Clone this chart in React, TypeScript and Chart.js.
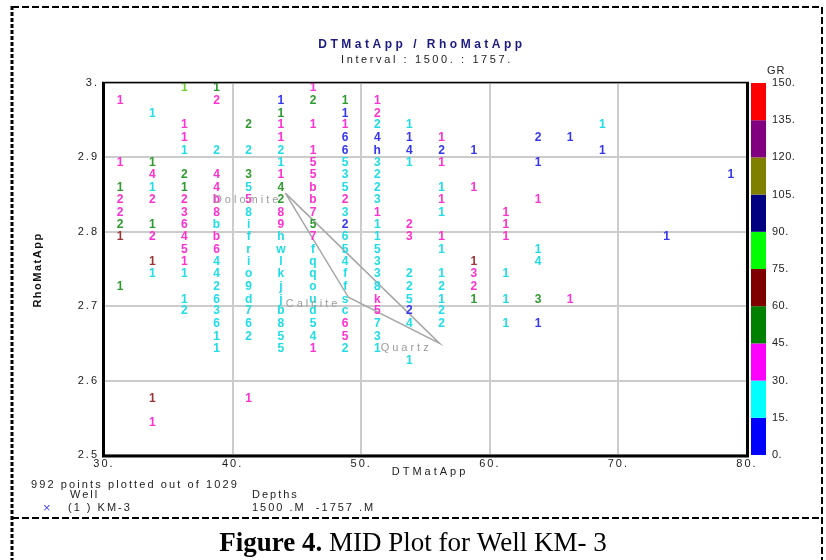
import { useEffect, useRef } from "react";
import { Chart, registerables } from "chart.js";

Chart.register(...registerables);

// ---------- axis ticks ----------
const xTicks = [30, 40, 50, 60, 70, 80];
const xTickLabels = ["30.", "40.", "50.", "60.", "70.", "80."];
const yTicks = [2.5, 2.6, 2.7, 2.8, 2.9, 3.0];
const yTickLabels = ["2.5", "2.6", "2.7", "2.8", "2.9", "3."];

// ---------- GR colour scale ----------
const grBounds = [0, 15, 30, 45, 60, 75, 90, 105, 120, 135, 150];
const grBoundLabels = ["0.", "15.", "30.", "45.", "60.", "75.", "90.", "105.", "120.", "135.", "150."];
const grBandColors = ["#0000ff", "#00ffff", "#ff00ff", "#008000", "#800000", "#00ff00", "#000080", "#808000", "#800080", "#ff0000"];

// ---------- crossplot cells: [DTMatApp, RhoMatApp, count symbol] ----------
type Cell = [number, number, string];

// GR 0-15
const gr0to15: Cell[] = [
  [43.75, 2.975, "1"], [48.75, 2.958, "1"],
  [48.75, 2.925, "6"], [51.25, 2.925, "4"], [53.75, 2.925, "1"], [63.75, 2.925, "2"], [66.25, 2.925, "1"],
  [48.75, 2.908, "6"], [51.25, 2.908, "h"], [53.75, 2.908, "4"], [56.25, 2.908, "2"], [58.75, 2.908, "1"], [68.75, 2.908, "1"],
  [63.75, 2.892, "1"], [78.75, 2.875, "1"], [48.75, 2.808, "2"], [73.75, 2.792, "1"],
  [53.75, 2.692, "2"], [63.75, 2.675, "1"],
];

// GR 15-30
const gr15to30: Cell[] = [
  [33.75, 2.958, "1"],
  [51.25, 2.942, "2"], [53.75, 2.942, "1"], [68.75, 2.942, "1"],
  [36.25, 2.908, "1"], [38.75, 2.908, "2"], [41.25, 2.908, "2"], [43.75, 2.908, "2"],
  [43.75, 2.892, "1"], [48.75, 2.892, "5"], [51.25, 2.892, "3"], [53.75, 2.892, "1"],
  [48.75, 2.875, "3"], [51.25, 2.875, "2"],
  [33.75, 2.858, "1"], [41.25, 2.858, "5"], [48.75, 2.858, "5"], [51.25, 2.858, "2"], [56.25, 2.858, "1"],
  [51.25, 2.842, "3"],
  [41.25, 2.825, "8"], [48.75, 2.825, "3"], [56.25, 2.825, "1"],
  [38.75, 2.808, "b"], [41.25, 2.808, "i"], [51.25, 2.808, "1"],
  [41.25, 2.792, "f"], [43.75, 2.792, "h"], [48.75, 2.792, "6"], [51.25, 2.792, "1"],
  [41.25, 2.775, "r"], [43.75, 2.775, "w"], [46.25, 2.775, "f"], [48.75, 2.775, "5"], [51.25, 2.775, "5"], [56.25, 2.775, "1"], [63.75, 2.775, "1"],
  [38.75, 2.758, "4"], [41.25, 2.758, "i"], [43.75, 2.758, "l"], [46.25, 2.758, "q"], [48.75, 2.758, "4"], [51.25, 2.758, "3"], [63.75, 2.758, "4"],
  [33.75, 2.742, "1"], [36.25, 2.742, "1"], [38.75, 2.742, "4"], [41.25, 2.742, "o"], [43.75, 2.742, "k"], [46.25, 2.742, "q"], [48.75, 2.742, "f"], [51.25, 2.742, "3"], [53.75, 2.742, "2"], [56.25, 2.742, "1"], [61.25, 2.742, "1"],
  [38.75, 2.725, "2"], [41.25, 2.725, "9"], [43.75, 2.725, "j"], [46.25, 2.725, "o"], [48.75, 2.725, "f"], [51.25, 2.725, "8"], [53.75, 2.725, "2"], [56.25, 2.725, "2"],
  [36.25, 2.708, "1"], [38.75, 2.708, "6"], [41.25, 2.708, "d"], [43.75, 2.708, "j"], [46.25, 2.708, "u"], [48.75, 2.708, "s"], [53.75, 2.708, "5"], [56.25, 2.708, "1"], [61.25, 2.708, "1"],
  [36.25, 2.692, "2"], [38.75, 2.692, "3"], [41.25, 2.692, "7"], [43.75, 2.692, "b"], [46.25, 2.692, "d"], [48.75, 2.692, "c"], [56.25, 2.692, "2"],
  [38.75, 2.675, "6"], [41.25, 2.675, "6"], [43.75, 2.675, "8"], [46.25, 2.675, "5"], [51.25, 2.675, "7"], [53.75, 2.675, "4"], [56.25, 2.675, "2"], [61.25, 2.675, "1"],
  [38.75, 2.658, "1"], [41.25, 2.658, "2"], [43.75, 2.658, "5"], [46.25, 2.658, "4"], [51.25, 2.658, "3"],
  [38.75, 2.642, "1"], [43.75, 2.642, "5"], [48.75, 2.642, "2"], [51.25, 2.642, "1"],
  [53.75, 2.625, "1"],
];

// GR 30-45
const gr30to45: Cell[] = [
  [46.25, 2.992, "1"],
  [31.25, 2.975, "1"], [38.75, 2.975, "2"], [51.25, 2.975, "1"],
  [51.25, 2.958, "2"],
  [36.25, 2.942, "1"], [43.75, 2.942, "1"], [46.25, 2.942, "1"], [48.75, 2.942, "1"],
  [36.25, 2.925, "1"], [43.75, 2.925, "1"], [56.25, 2.925, "1"],
  [46.25, 2.908, "1"],
  [31.25, 2.892, "1"], [46.25, 2.892, "5"], [56.25, 2.892, "1"],
  [33.75, 2.875, "4"], [38.75, 2.875, "4"], [43.75, 2.875, "1"], [46.25, 2.875, "5"],
  [38.75, 2.858, "4"], [46.25, 2.858, "b"], [58.75, 2.858, "1"],
  [31.25, 2.842, "2"], [33.75, 2.842, "2"], [36.25, 2.842, "2"], [38.75, 2.842, "b"], [41.25, 2.842, "5"], [46.25, 2.842, "b"], [48.75, 2.842, "2"], [56.25, 2.842, "1"], [63.75, 2.842, "1"],
  [31.25, 2.825, "2"], [36.25, 2.825, "3"], [38.75, 2.825, "8"], [43.75, 2.825, "8"], [46.25, 2.825, "7"], [51.25, 2.825, "1"], [61.25, 2.825, "1"],
  [36.25, 2.808, "6"], [43.75, 2.808, "9"], [53.75, 2.808, "2"], [61.25, 2.808, "1"],
  [33.75, 2.792, "2"], [36.25, 2.792, "4"], [38.75, 2.792, "b"], [46.25, 2.792, "7"], [53.75, 2.792, "3"], [56.25, 2.792, "1"], [61.25, 2.792, "1"],
  [36.25, 2.775, "5"], [38.75, 2.775, "6"],
  [36.25, 2.758, "1"],
  [58.75, 2.742, "3"], [58.75, 2.725, "2"],
  [51.25, 2.708, "k"], [66.25, 2.708, "1"],
  [51.25, 2.692, "5"], [48.75, 2.675, "6"], [48.75, 2.658, "5"], [46.25, 2.642, "1"],
  [41.25, 2.575, "1"], [33.75, 2.542, "1"],
];

// GR 45-60
const gr45to60: Cell[] = [
  [38.75, 2.992, "1"], [46.25, 2.975, "2"], [48.75, 2.975, "1"], [43.75, 2.958, "1"], [41.25, 2.942, "2"],
  [33.75, 2.892, "1"], [36.25, 2.875, "2"], [41.25, 2.875, "3"],
  [31.25, 2.858, "1"], [36.25, 2.858, "1"], [43.75, 2.858, "4"], [43.75, 2.842, "2"],
  [31.25, 2.808, "2"], [33.75, 2.808, "1"], [46.25, 2.808, "5"],
  [31.25, 2.725, "1"], [58.75, 2.708, "1"], [63.75, 2.708, "3"],
];

// GR 60-75
const gr60to75: Cell[] = [
  [31.25, 2.792, "1"], [33.75, 2.758, "1"], [58.75, 2.758, "1"], [33.75, 2.575, "1"],
];

// GR 75-90
const gr75to90: Cell[] = [[36.25, 2.992, "1"]];

const cellBands = [gr0to15, gr15to30, gr30to45, gr45to60, gr60to75, gr75to90];
const cellTextColors = ["#3636f0", "#1fdde6", "#ff30d0", "#2f9a2f", "#9b3535", "#6ccc2a"];

// ---------- mineral triangle ----------
const mineralNames = ["Dolomite", "Calcite", "Quartz"];
const mineralDT = [44.1, 49.0, 56.1];
const mineralRho = [2.852, 2.712, 2.65];

const SANS = "'Liberation Sans', Arial, sans-serif";
const SERIF = "'Liberation Serif', 'Times New Roman', serif";

function txt(
  ctx: CanvasRenderingContext2D,
  s: string,
  x: number,
  y: number,
  font: string,
  color: string,
  align: CanvasTextAlign = "left",
  spacing = 0,
  baseline: CanvasTextBaseline = "middle"
) {
  ctx.save();
  (ctx as any).letterSpacing = spacing + "px";
  ctx.font = font;
  ctx.fillStyle = color;
  ctx.textAlign = align;
  ctx.textBaseline = baseline;
  ctx.fillText(s, x, y);
  ctx.restore();
}

const decorPlugin = {
  id: "decor",
  beforeDraw(chart: any) {
    const ctx: CanvasRenderingContext2D = chart.ctx;
    ctx.save();
    ctx.fillStyle = "#ffffff";
    ctx.fillRect(0, 0, chart.width, chart.height);
    // dashed page borders
    ctx.strokeStyle = "#000";
    ctx.lineWidth = 2;
    ctx.setLineDash([7, 3]);
    ctx.beginPath();
    ctx.moveTo(12, 7);
    ctx.lineTo(822, 7);
    ctx.moveTo(12, 518);
    ctx.lineTo(822, 518);
    ctx.moveTo(822, 7);
    ctx.lineTo(822, 560);
    ctx.stroke();
    ctx.lineWidth = 3;
    ctx.setLineDash([4, 2]);
    ctx.beginPath();
    ctx.moveTo(12, 6);
    ctx.lineTo(12, 560);
    ctx.stroke();
    ctx.restore();
    (ctx as any).letterSpacing = "2px";
  },
  afterDatasetsDraw(chart: any) {
    const ctx: CanvasRenderingContext2D = chart.ctx;
    (ctx as any).letterSpacing = "0px";
    const ca = chart.chartArea;

    // count symbols
    chart.data.datasets.forEach((ds: any, i: number) => {
      if (!ds.chars) return;
      const meta = chart.getDatasetMeta(i);
      meta.data.forEach((el: any, j: number) => {
        txt(ctx, ds.chars[j], el.x, el.y - 1, `bold 12px ${SANS}`, ds.textColor, "center");
      });
    });

    // mineral labels
    const triIdx = chart.data.datasets.findIndex((d: any) => d.isTriangle);
    if (triIdx >= 0) {
      const meta = chart.getDatasetMeta(triIdx);
      const offs = [[-4, 7], [-8, 7], [-8, 5]];
      mineralNames.forEach((n, k) => {
        const el = meta.data[k];
        txt(ctx, n, el.x + offs[k][0], el.y + offs[k][1], `11px ${SANS}`, "#9c9c9c", "right", 3);
      });
    }

    // frame
    ctx.save();
    ctx.strokeStyle = "#000";
    ctx.lineWidth = 3;
    ctx.beginPath();
    ctx.moveTo(ca.left - 0.5, ca.top);
    ctx.lineTo(ca.left - 0.5, ca.bottom + 1);
    ctx.lineTo(ca.right + 0.5, ca.bottom + 1);
    ctx.lineTo(ca.right + 0.5, ca.top);
    ctx.stroke();
    ctx.lineWidth = 1.5;
    ctx.beginPath();
    ctx.moveTo(ca.left - 2, ca.top - 0.5);
    ctx.lineTo(ca.right + 2, ca.top - 0.5);
    ctx.stroke();
    ctx.restore();

    // colour bar
    const gr = chart.scales.gr;
    for (let b = 0; b < grBandColors.length; b++) {
      const y0 = gr.getPixelForValue(grBounds[b]);
      const y1 = gr.getPixelForValue(grBounds[b + 1]);
      ctx.fillStyle = grBandColors[b];
      ctx.fillRect(751, y1, 15, y0 - y1);
    }
    grBoundLabels.forEach((l, k) => {
      txt(ctx, l, 772, gr.getPixelForValue(grBounds[k]), `11px ${SANS}`, "#222", "left", 0.5);
    });
    txt(ctx, "GR", 767, 71, `11px ${SANS}`, "#222", "left", 1);

    // titles
    txt(ctx, "DTMatApp / RhoMatApp", 422, 45, `bold 12px ${SANS}`, "#1c1c80", "center", 3.5);
    txt(ctx, "Interval : 1500. : 1757.", 427, 60, `11px ${SANS}`, "#222", "center", 2.6);

    // axis titles
    txt(ctx, "DTMatApp", 430, 472, `11px ${SANS}`, "#222", "center", 3);
    ctx.save();
    ctx.translate(38, 270);
    ctx.rotate(-Math.PI / 2);
    txt(ctx, "RhoMatApp", 0, 0, `bold 11px ${SANS}`, "#111", "center", 1.5);
    ctx.restore();

    // footer
    txt(ctx, "992 points plotted out of 1029", 31, 485, `11px ${SANS}`, "#222", "left", 2.1);
    txt(ctx, "Well", 70, 495, `11px ${SANS}`, "#222", "left", 2);
    txt(ctx, "Depths", 252, 495, `11px ${SANS}`, "#222", "left", 2);
    txt(ctx, "×", 43, 508, `13px ${SANS}`, "#4a4af0", "left", 0);
    txt(ctx, "(1 ) KM-3", 68, 508, `11px ${SANS}`, "#222", "left", 2);
    txt(ctx, "1500 .M  -1757 .M", 252, 508, `11px ${SANS}`, "#222", "left", 2);

    // caption
    ctx.save();
    (ctx as any).letterSpacing = "0px";
    const boldPart = "Figure 4.";
    const restPart = " MID Plot for Well KM- 3";
    ctx.font = `bold 27px ${SERIF}`;
    const w1 = ctx.measureText(boldPart).width;
    ctx.font = `27px ${SERIF}`;
    const w2 = ctx.measureText(restPart).width;
    const x0 = 413 - (w1 + w2) / 2;
    ctx.restore();
    txt(ctx, boldPart, x0, 551, `bold 27px ${SERIF}`, "#000", "left", 0, "alphabetic");
    txt(ctx, restPart, x0 + w1, 551, `27px ${SERIF}`, "#000", "left", 0, "alphabetic");
  },
};

export default function App() {
  const ref = useRef<HTMLCanvasElement | null>(null);

  useEffect(() => {
    if (!ref.current) return;
    const datasets: any[] = [
      {
        type: "line",
        isTriangle: true,
        data: [0, 1, 2, 0].map((k) => ({ x: mineralDT[k], y: mineralRho[k] })),
        borderColor: "#a6a6a6",
        borderWidth: 1.5,
        pointRadius: 0,
        pointHoverRadius: 0,
        fill: false,
        tension: 0,
        showLine: true,
        order: 2,
      },
      ...cellBands.map((band, b) => ({
        type: "scatter",
        data: band.map((c) => ({ x: c[0], y: c[1] })),
        chars: band.map((c) => c[2]),
        textColor: cellTextColors[b],
        pointRadius: 0,
        pointHoverRadius: 0,
        showLine: false,
        order: 1,
      })),
    ];

    const tickFont = { family: SANS, size: 11 };
    const chart = new Chart(ref.current, {
      type: "scatter",
      data: { datasets },
      options: {
        animation: false,
        responsive: false,
        events: [],
        layout: { padding: { left: 74, right: 79, top: 83, bottom: 85 } },
        plugins: {
          legend: { display: false },
          tooltip: { enabled: false },
          title: { display: false },
        },
        scales: {
          x: {
            type: "linear",
            min: 30,
            max: 80,
            afterBuildTicks: (s: any) => {
              s.ticks = xTicks.map((v) => ({ value: v }));
            },
            afterFit: (s: any) => {
              s.height = 20;
            },
            grid: { color: "#cccccc", lineWidth: 2, drawTicks: false },
            border: { display: false },
            ticks: {
              padding: 2,
              font: tickFont,
              color: "#1a1a1a",
              maxRotation: 0,
              autoSkip: false,
              callback: (_v: any, i: number) => xTickLabels[i],
            },
          },
          y: {
            type: "linear",
            min: 2.5,
            max: 3.0,
            afterBuildTicks: (s: any) => {
              s.ticks = yTicks.map((v) => ({ value: v }));
            },
            afterFit: (s: any) => {
              s.width = 30;
            },
            grid: { color: "#cccccc", lineWidth: 2, drawTicks: false },
            border: { display: false },
            ticks: {
              padding: 5,
              font: tickFont,
              color: "#1a1a1a",
              autoSkip: false,
              callback: (_v: any, i: number) => yTickLabels[i],
            },
          },
          gr: {
            type: "linear",
            display: false,
            position: "right",
            min: 0,
            max: 150,
          },
        },
      } as any,
      plugins: [decorPlugin],
    });
    return () => chart.destroy();
  }, []);

  return (
    <div style={{ position: "absolute", left: 0, top: 0, width: 826, height: 560 }}>
      <canvas ref={ref} width={826} height={560} style={{ width: 826, height: 560, display: "block" }} />
    </div>
  );
}
